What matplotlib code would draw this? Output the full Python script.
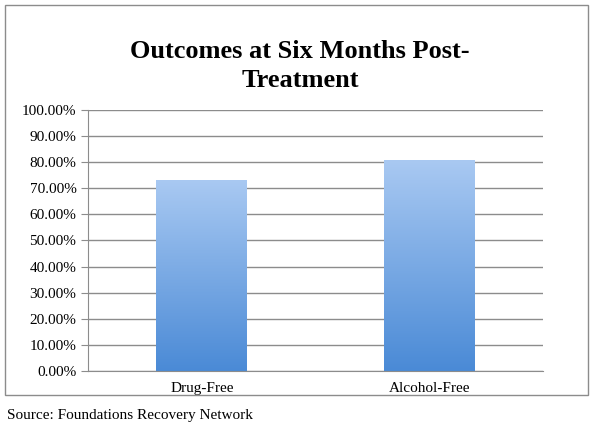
import numpy as np
import matplotlib.pyplot as plt
from matplotlib.patches import Rectangle
from matplotlib.ticker import FuncFormatter

categories = ['Drug-Free', 'Alcohol-Free']
values = [73.0, 80.5]
yticks = np.arange(0, 101, 10)

plt.rcParams['font.family'] = 'Liberation Serif'

fig = plt.figure(figsize=(6, 4.4), dpi=100)
fig.patches.append(Rectangle((5/600, 45/440), 583/600, 390/440, transform=fig.transFigure,
                             fill=False, edgecolor='#8c8c8c', linewidth=1))

ax = fig.add_axes([0.147, 0.157, 0.758, 0.593])
ax.set_xlim(-0.5, 1.5)
ax.set_ylim(0, 100)
ax.set_yticks(yticks)
ax.yaxis.set_major_formatter(FuncFormatter(lambda v, p: '%.2f%%' % v))
ax.grid(axis='y', color='#8c8c8c', linewidth=1)
ax.set_axisbelow(True)
for s in ['top', 'right']:
    ax.spines[s].set_visible(False)
ax.spines['left'].set_color('#8c8c8c')
ax.spines['bottom'].set_color('#8c8c8c')
ax.tick_params(axis='y', length=5, color='#8c8c8c', labelsize=11)
ax.tick_params(axis='x', length=0, labelsize=11, pad=8)
ax.set_xticks(range(len(categories)))
ax.set_xticklabels(categories)

# gradient bars: light on top, darker at the bottom
grad = np.linspace(0, 1, 256).reshape(-1, 1)
cmap = plt.matplotlib.colors.LinearSegmentedColormap.from_list('g', ['#4a8ad6', '#a9c9f2'])
w = 0.4
for i, v in enumerate(values):
    ax.imshow(grad, extent=(i - w/2, i + w/2, 0, v), origin='lower', cmap=cmap,
              aspect='auto', zorder=2)
ax.set_xlim(-0.5, 1.5)
ax.set_ylim(0, 100)

fig.text(0.5, 0.85, 'Outcomes at Six Months Post-\nTreatment', ha='center', va='center',
         fontsize=19, fontweight='bold', linespacing=1.3)
fig.text(0.012, 0.055, 'Source: Foundations Recovery Network', fontsize=11, va='center')

fig.savefig('out.png', dpi=100)
